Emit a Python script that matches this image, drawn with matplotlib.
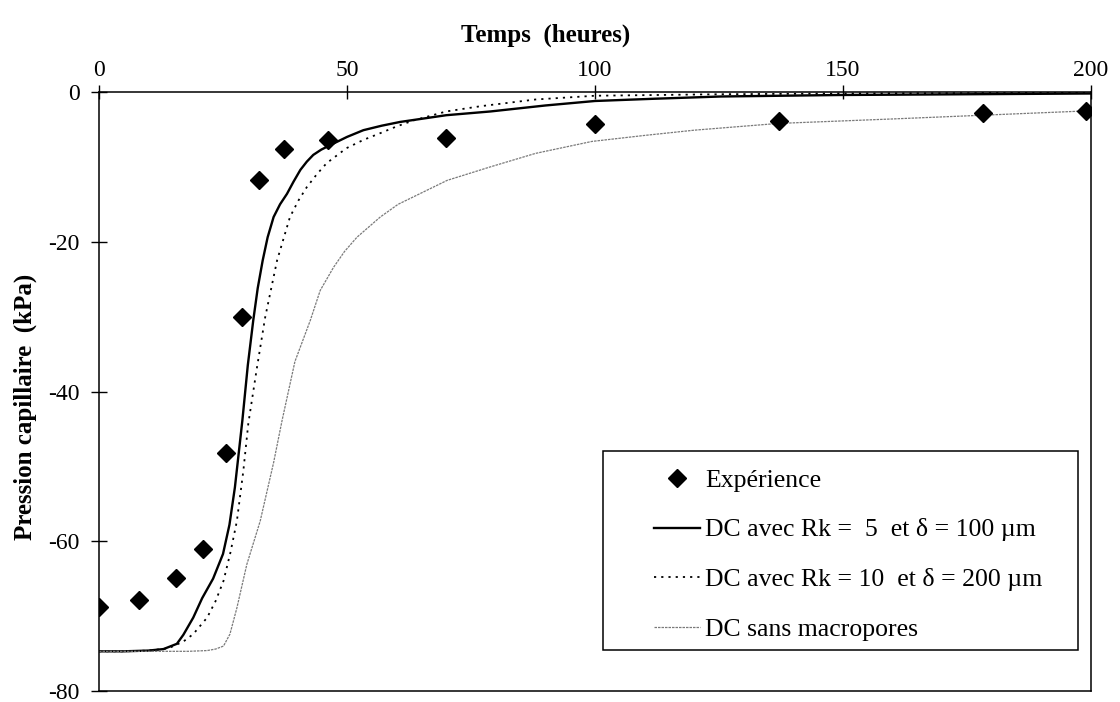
import matplotlib
matplotlib.use("Agg")
import matplotlib.pyplot as plt
from matplotlib.patches import Rectangle

plt.rcParams['font.family'] = ['Liberation Serif', 'DejaVu Serif']
plt.rcParams['axes.unicode_minus'] = False  # tirets simples comme dans l'original

# Points expérimentaux (temps en heures, pression en kPa)
t_exp = [0, 8.1, 15.5, 21, 25.6, 28.8, 32.3, 37.3, 46.2, 70, 100, 137, 178.3, 199]
p_exp = [-68.8, -67.8, -64.9, -61, -48.2, -30.1, -11.8, -7.6, -6.4, -6.2, -4.3, -3.9, -2.8, -2.5]

# DC avec Rk = 5 et delta = 100 um (trait plein)
t_rk5 = [0, 5, 10, 13, 15.7, 17, 19, 20.8, 23, 25, 26.3, 27.4, 28.9, 30, 31.1, 32, 33, 34,
         35.2, 36.5, 37.9, 39.2, 40.6, 41.9, 43.2, 44.8, 46.6, 50, 53.3, 57, 60.7, 70, 78.9,
         90, 100, 112, 125.4, 149.5, 175, 200]
p_rk5 = [-74.7, -74.7, -74.6, -74.4, -73.7, -72.5, -70.2, -67.6, -65, -61.7, -57.8, -52.8,
         -43.9, -36.5, -30.5, -26.2, -22.5, -19.4, -16.7, -15.0, -13.6, -12.0, -10.4, -9.3,
         -8.4, -7.7, -7.1, -6.0, -5.1, -4.5, -4.0, -3.1, -2.6, -1.8, -1.2, -0.9, -0.6, -0.4,
         -0.3, -0.2]

# DC avec Rk = 10 et delta = 200 um (pointillé)
t_rk10 = [0, 5, 10, 14, 17, 19, 21.8, 23.5, 25.1, 26.5, 27.8, 29.1, 30.1, 31.8, 33.5, 35.9,
          38.5, 40.2, 41.9, 43.9, 45.9, 49.9, 53.3, 56.7, 60, 63.4, 70, 76.9, 88, 100, 125,
          149.5, 175, 200]
p_rk10 = [-74.7, -74.7, -74.6, -74.3, -73.4, -72.4, -70.2, -68.0, -65.3, -61.5, -57.3,
          -50.6, -44.3, -37, -30.1, -22.5, -16.7, -14.5, -12.7, -11.0, -9.5, -7.5, -6.4,
          -5.5, -4.6, -3.8, -2.6, -1.9, -1.0, -0.5, -0.3, -0.2, -0.15, -0.1]

# DC sans macropores (trait fin gris)
t_sans = [0, 10, 18, 21.8, 23.5, 25.1, 26.4, 27.8, 29.8, 32.5, 35.2, 36.9, 39.5, 42.6, 44.6,
          47.3, 49.5, 52, 56.7, 60.3, 63.4, 70.2, 78.9, 88, 99.4, 110, 120, 136.9, 160,
          178.2, 200]
p_sans = [-74.7, -74.7, -74.7, -74.6, -74.4, -74.0, -72.4, -68.9, -63.1, -57.3, -49.5,
          -43.9, -36, -30.5, -26.5, -23.4, -21.3, -19.4, -16.7, -15.0, -14.0, -11.8, -10.0,
          -8.2, -6.6, -5.8, -5.1, -4.2, -3.6, -3.1, -2.5]

x_ticks = [0, 50, 100, 150, 200]
y_ticks = [-80, -60, -40, -20, 0]

fig = plt.figure(figsize=(11.2, 7.02), dpi=100)
ax = fig.add_axes([99 / 1120, 1 - 691 / 702, 992 / 1120, 599 / 702])

ax.plot(t_exp, p_exp, 'D', color='black', markersize=9.5, label='Expérience', zorder=5)
ax.plot(t_rk5, p_rk5, '-', color='black', linewidth=1.7,
        label='DC avec Rk =  5  et δ = 100 µm')
ax.plot(t_rk10, p_rk10, color='black', linewidth=1.3, linestyle=(0, (1.2, 2.8)),
        label='DC avec Rk = 10  et δ = 200 µm')
ax.plot(t_sans, p_sans, color='#7a7a7a', linewidth=0.9, linestyle=(0, (2, 0.8)),
        label='DC sans macropores')

ax.set_xlim(0, 200)
ax.set_ylim(-80, 0)
ax.set_xticks(x_ticks)
ax.set_yticks(y_ticks)

# axe du temps en haut, ticks qui traversent l'axe
ax.xaxis.tick_top()
ax.xaxis.set_label_position('top')
ax.tick_params(axis='x', direction='inout', length=10, width=1, pad=3, labelsize=17)
ax.tick_params(axis='y', direction='inout', length=12, width=1, pad=8, labelsize=17)
for s in ax.spines.values():
    s.set_linewidth(1.1)

ax.set_xlabel('Temps  (heures)', fontsize=18, fontweight='bold')
ax.xaxis.set_label_coords(0.45, 1.085)
ax.set_ylabel('Pression capillaire  (kPa)', fontsize=18, fontweight='bold')
ax.yaxis.set_label_coords(-0.063, 0.474)

# cadre de la légende (plus large à gauche que ce que matplotlib donne)
ax.add_patch(Rectangle((0.508, 0.068), 0.479, 0.333, transform=ax.transAxes,
                       facecolor='white', edgecolor='black', linewidth=1.1, zorder=6))
leg = ax.legend(loc='upper left', bbox_to_anchor=(0.541, 0.401), fontsize=18.5,
                frameon=False, borderpad=0.7, labelspacing=1.04, handlelength=1.8,
                handletextpad=0.2, borderaxespad=0)
leg.set_zorder(7)

fig.savefig('out.png', dpi=100)
